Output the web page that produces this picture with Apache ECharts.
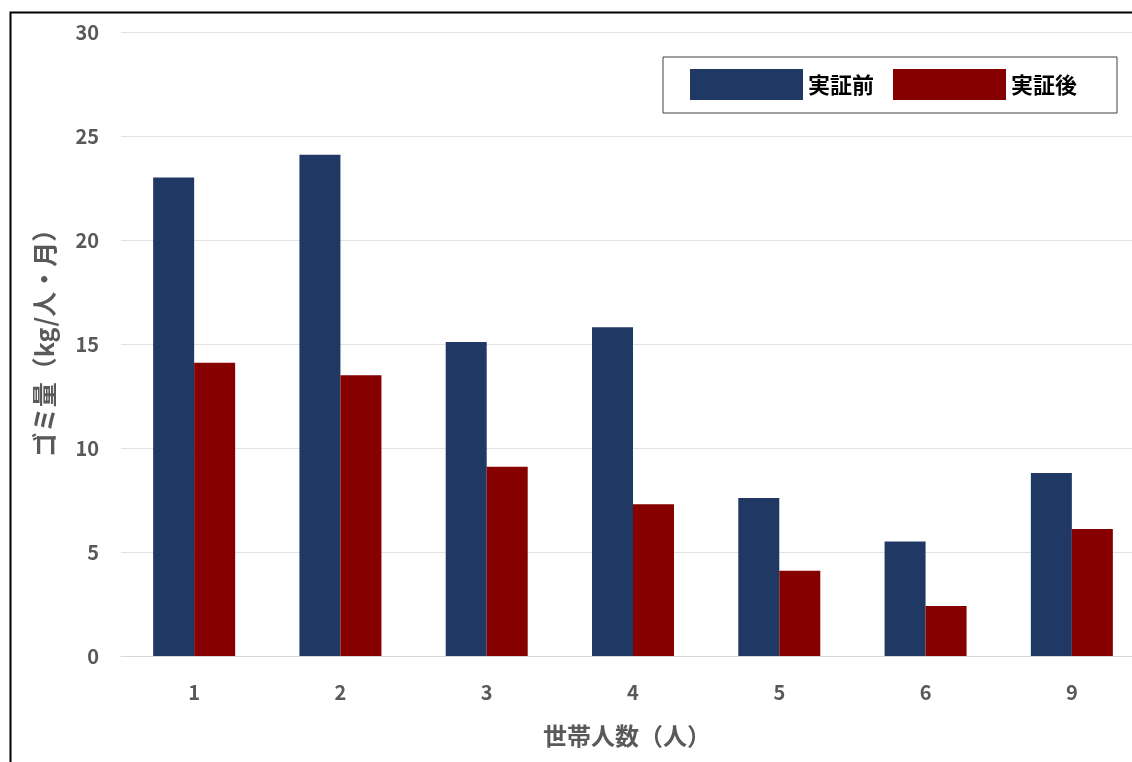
<!DOCTYPE html>
<html>
<head>
<meta charset="utf-8">
<style>
  html, body { margin: 0; padding: 0; background: #fff; overflow: hidden; }
  #chart { width: 1160px; height: 762px; }
</style>
<script src="https://cdn.jsdelivr.net/npm/echarts@6/dist/echarts.min.js"></script>
</head>
<body>
<div id="chart"></div>
<script>
// 世帯人数ごとのゴミ量（kg/人・月）
const householdSizes = ['1', '2', '3', '4', '5', '6', '9'];
const seriesNames = ['実証前', '実証後'];
const beforeValues = [23.0, 24.1, 15.1, 15.8, 7.6, 5.5, 8.8];
const afterValues = [14.1, 13.5, 9.1, 7.3, 4.1, 2.4, 6.1];
const yTicks = { min: 0, max: 30, interval: 5 };

const FONT = '"Noto Sans CJK JP", "Noto Sans", sans-serif';
const GREY = '#595959';

const chart = echarts.init(document.getElementById('chart'), null, { renderer: 'canvas' });

chart.setOption({
  backgroundColor: '#ffffff',
  animation: false,
  textStyle: { fontFamily: FONT },
  graphic: [
    {
      type: 'rect',
      left: 8, top: 10,
      shape: { width: 1200, height: 800 },
      style: { fill: 'none', stroke: '#000', lineWidth: 2 },
      z: 100
    }
  ],
  legend: {
    data: seriesNames,
    left: 663,
    top: 57,
    orient: 'horizontal',
    padding: [12, 40, 13, 27],
    itemWidth: 113,
    itemHeight: 31,
    itemGap: 19,
    borderColor: '#404040',
    borderWidth: 1,
    icon: 'rect',
    textStyle: { fontFamily: FONT, fontSize: 22, fontWeight: 'bold', color: '#000' }
  },
  grid: { left: 121, top: 32, width: 1024, height: 624, containLabel: false },
  xAxis: {
    type: 'category',
    data: householdSizes,
    name: '世帯人数（人）',
    nameLocation: 'middle',
    nameGap: 68,
    nameTextStyle: { fontFamily: FONT, fontSize: 24, fontWeight: 'bold', color: GREY, padding: [0, 12, 0, 0] },
    axisLine: { lineStyle: { color: '#d9d9d9', width: 1 } },
    axisTick: { show: false },
    axisLabel: { margin: 26, fontFamily: FONT, fontSize: 20, fontWeight: 'bold', color: GREY }
  },
  yAxis: {
    type: 'value',
    min: yTicks.min,
    max: yTicks.max,
    interval: yTicks.interval,
    name: 'ゴミ量（kg/人・月）',
    nameLocation: 'middle',
    nameGap: 64,
    nameTextStyle: { fontFamily: FONT, fontSize: 25, fontWeight: 'bold', color: GREY, padding: [0, 0, 0, 14] },
    axisLine: { show: false },
    axisTick: { show: false },
    splitLine: { lineStyle: { color: '#e2e2e2', width: 1 } },
    axisLabel: { margin: 22, fontFamily: FONT, fontSize: 20, fontWeight: 'bold', color: GREY }
  },
  series: [
    {
      name: seriesNames[0],
      type: 'bar',
      data: beforeValues,
      barWidth: 41,
      barGap: '0%',
      itemStyle: { color: '#1f3864' }
    },
    {
      name: seriesNames[1],
      type: 'bar',
      data: afterValues,
      barWidth: 41,
      barGap: '0%',
      itemStyle: { color: '#860000' }
    }
  ]
});
</script>
</body>
</html>
